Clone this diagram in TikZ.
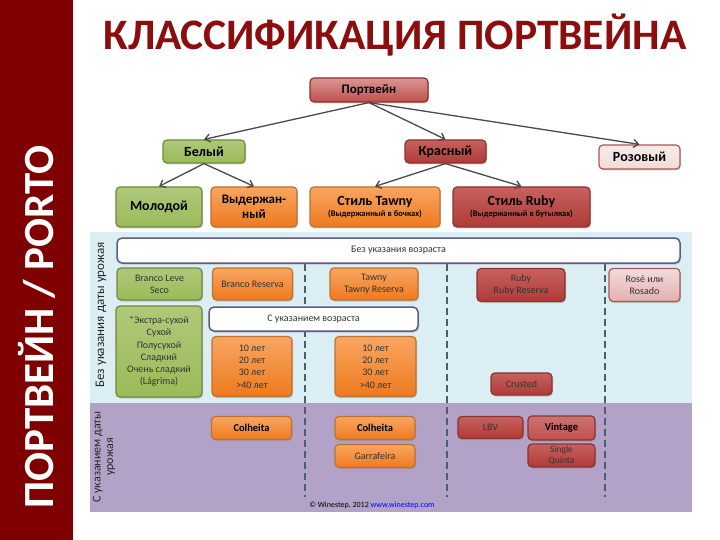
\documentclass[tikz,border=0pt]{standalone}
\usepackage{fontspec}
\setmainfont{Carlito}
\usepackage{xcolor}
\usetikzlibrary{arrows.meta,shadows}

\definecolor{wine}{HTML}{7F0000}
\definecolor{titlered}{HTML}{8B0D0D}
\definecolor{grn}{HTML}{9BBB59}
\definecolor{grnline}{HTML}{6E8A3A}
\definecolor{org}{HTML}{F79646}
\definecolor{orgdark}{HTML}{EE7A1E}
\definecolor{orgline}{HTML}{C0712E}
\definecolor{rd}{HTML}{C0504D}
\definecolor{rddark}{HTML}{B03A36}
\definecolor{rdline}{HTML}{8C3230}
\definecolor{pnk}{HTML}{F2DCDB}
\definecolor{skyback}{HTML}{DAEEF3}
\definecolor{lilac}{HTML}{B3A2C7}
\definecolor{barline}{HTML}{5E5A85}
\definecolor{sepgray}{HTML}{4F5D6B}
\definecolor{arrowgray}{HTML}{4A4A4A}

\tikzset{
  box/.style={rounded corners=4pt, line width=1.2pt, align=center, inner sep=1pt,
    drop shadow={opacity=0.35, shadow xshift=1pt, shadow yshift=-1.5pt}},
  greenbox/.style={box, draw=grnline, top color=grn!80!white, bottom color=grn},
  orangebox/.style={box, draw=orgline, top color=org!85!white, bottom color=orgdark},
  redbox/.style={box, draw=rdline, top color=rd!90!white, bottom color=rddark},
  pinkbox/.style={box, draw=rdline!80, top color=pnk!60!white, bottom color=pnk},
  agebar/.style={box, draw=barline, fill=white, line width=1.5pt, rounded corners=5pt},
  bigtxt/.style={font=\bfseries\fontsize{14}{15}\selectfont},
  smalltxt/.style={font=\fontsize{10}{12.3}\selectfont, text=black!80},
  arr/.style={-{Straight Barb[length=5pt,width=8pt]}, arrowgray, line width=1.3pt},
  sepline/.style={sepgray, line width=1.6pt, dash pattern=on 7pt off 4pt}
}

\begin{document}
\begin{tikzpicture}[x=1pt,y=-1pt]
\useasboundingbox (0,0) rectangle (720,540);
\fill[white] (0,0) rectangle (720,540);

% side bar and title
\fill[wine] (0,0) rectangle (73,540);
\node[rotate=90, text=white, font=\bfseries\fontsize{43}{43}\selectfont] (porto) at (37,327) {ПОРТВЕЙН / PORTO};
\node[text=titlered, font=\bfseries\fontsize{43.5}{44}\selectfont] (title) at (395,35) {КЛАССИФИКАЦИЯ ПОРТВЕЙНА};

% tree
\node[redbox, top color=rd!60!white, bottom color=rd, minimum width=118pt, minimum height=24pt,
      font=\bfseries\fontsize{13}{14}\selectfont] (port) at (369,90) {Портвейн};
\node[greenbox, bigtxt, minimum width=82pt, minimum height=23pt] (white) at (204,151.5) {Белый};
\node[redbox, bigtxt, minimum width=81pt, minimum height=23pt] (red) at (445.5,151.5) {Красный};
\node[pinkbox, bigtxt, minimum width=81pt, minimum height=24pt] (rose) at (639.5,157) {Розовый};
\node[greenbox, bigtxt, minimum width=86pt, minimum height=40pt] (young) at (159,207) {Молодой};
\node[orangebox, font=\bfseries\fontsize{13}{15}\selectfont, minimum width=86pt, minimum height=40pt] (aged) at (254,207) {Выдержан-\\ный};
\node[orangebox, minimum width=130pt, minimum height=40pt] (tawny) at (375,207)
     {{\bfseries\fontsize{14}{15}\selectfont Стиль Tawny}\\[-1pt]{\bfseries\fontsize{8.5}{9}\selectfont (Выдержанный в бочках)}};
\node[redbox, minimum width=137pt, minimum height=40pt] (ruby) at (521.5,207)
     {{\bfseries\fontsize{14}{15}\selectfont Стиль Ruby}\\[-1pt]{\bfseries\fontsize{8.5}{9}\selectfont (Выдержанный в бутылках)}};

\draw[arr] (port.south) -- (white.north);
\draw[arr] (port.south) -- (red.north);
\draw[arr] (port.south) -- (rose.north);
\draw[arr] (white.south) -- (young.north);
\draw[arr] (white.south) -- (aged.north);
\draw[arr] (red.south) -- (tawny.north);
\draw[arr] (red.south) -- (ruby.north);

% table background
\fill[skyback] (90,232) rectangle (692,403);
\fill[lilac] (90,403) rectangle (692,512);
\node[rotate=90, font=\fontsize{13}{14}\selectfont, text=black!85] (novintage) at (101,315) {Без указания даты урожая};
\node[rotate=90, align=center, font=\fontsize{12}{12.5}\selectfont, text=black!85] (vintage) at (104,457) {С указанием даты\\урожая};

% column separators
\draw[sepline] (305,264) -- (305,497);
\draw[sepline] (447,264) -- (447,497);
\draw[sepline] (605,264) -- (605,497);

% rows
\node[agebar, smalltxt, minimum width=563pt, minimum height=25pt] (noage) at (398.5,250.5) {Без указания возраста};
\node[greenbox, smalltxt, minimum width=85pt, minimum height=32pt] (leve) at (159.5,284) {Branco Leve\\Seco};
\node[orangebox, smalltxt, minimum width=80pt, minimum height=32pt] (breserva) at (252.5,284) {Branco Reserva};
\node[orangebox, smalltxt, minimum width=88pt, minimum height=32pt] (treserva) at (374,284) {Tawny\\Tawny Reserva};
\node[redbox, smalltxt, minimum width=88pt, minimum height=33pt] (rreserva) at (521,285) {Ruby\\Ruby Reserva};
\node[pinkbox, smalltxt, top color=pnk, bottom color=rd!45!white, minimum width=71pt, minimum height=33pt] (rosado) at (644.5,285) {Rosé или\\Rosado};

\node[agebar, smalltxt, minimum width=209pt, minimum height=24pt] (withage) at (313.5,319) {С указанием возраста};
\node[greenbox, smalltxt, minimum width=86pt, minimum height=91pt] (sweet) at (159,351.5)
     {*Экстра-сухой\\Сухой\\Полусухой\\Сладкий\\Очень сладкий\\(Lágrima)};
\node[orangebox, smalltxt, minimum width=80pt, minimum height=60pt] (bage) at (252,366.5) {10 лет\\20 лет\\30 лет\\>40 лет};
\node[orangebox, smalltxt, minimum width=81pt, minimum height=60pt] (tage) at (375.5,366.5) {10 лет\\20 лет\\30 лет\\>40 лет};
\node[redbox, smalltxt, minimum width=61pt, minimum height=22pt] (crusted) at (521.5,384) {Crusted};

\node[orangebox, font=\bfseries\fontsize{10.5}{12}\selectfont, minimum width=80pt, minimum height=23pt] (bcolheita) at (251.5,428) {Colheita};
\node[orangebox, font=\bfseries\fontsize{10.5}{12}\selectfont, minimum width=80pt, minimum height=23pt] (tcolheita) at (375,428) {Colheita};
\node[orangebox, smalltxt, minimum width=80pt, minimum height=23pt] (garrafeira) at (375,456) {Garrafeira};
\node[redbox, smalltxt, minimum width=65pt, minimum height=22pt] (lbv) at (490.5,427.5) {LBV};
\node[redbox, top color=rd!80!white, bottom color=rd, font=\bfseries\fontsize{10.5}{12}\selectfont, minimum width=67pt, minimum height=24pt] (vint) at (561.5,428) {Vintage};
\node[redbox, smalltxt, font=\fontsize{9.5}{10.5}\selectfont, minimum width=67pt, minimum height=23pt] (quinta) at (561.5,455.5) {Single\\Quinta};

\node[font=\fontsize{8}{9}\selectfont] (credit) at (372,505) {© Winestep, 2012 \textcolor{blue}{www.winestep.com}};
\end{tikzpicture}
\end{document}
